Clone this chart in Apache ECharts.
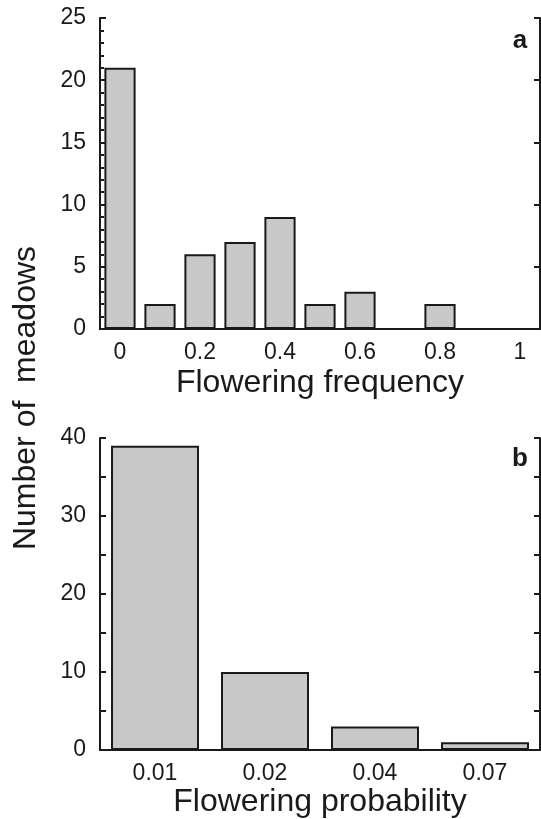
<!DOCTYPE html>
<html>
<head>
<meta charset="utf-8">
<script src="https://cdn.jsdelivr.net/npm/echarts@6/dist/echarts.min.js"></script>
<style>
  html, body { margin: 0; padding: 0; background: #fff; }
  #chart { width: 541px; height: 819px; }
</style>
</head>
<body>
<div id="chart"></div>
<script>
// panel a: flowering frequency bins
const freqBins = ['0', '0.1', '0.2', '0.3', '0.4', '0.5', '0.6', '0.7', '0.8', '0.9', '1'];
const freqCounts = [21, 2, 6, 7, 9, 2, 3, 0, 2, 0, 0];

// panel b: flowering probability classes
const probCats = ['0.01', '0.02', '0.04', '0.07'];
const probCounts = [39, 10, 3, 1];

const FONT = '"Liberation Sans", Arial, sans-serif';
const INK = '#1a1a1a';
const BAR = '#c8c8c8';

const chart = echarts.init(document.getElementById('chart'), null, { renderer: 'canvas' });

const lineStyle = { color: INK, width: 2 };
const labelStyle = { color: INK, fontSize: 23, fontFamily: FONT };
const nameStyle = { color: INK, fontSize: 32, fontFamily: FONT };

const option = {
  animation: false,
  backgroundColor: '#fff',
  grid: [
    { left: 100, right: 1, top: 18, height: 311 },
    { left: 100, right: 1, top: 438, height: 313 }
  ],
  xAxis: [
    // panel a, bottom: boundary ticks + labels
    {
      type: 'category', gridIndex: 0, position: 'bottom', data: freqBins,
      boundaryGap: true,
      axisLine: { lineStyle },
      axisTick: { inside: true, length: 6, lineStyle },
      axisLabel: Object.assign({ interval: 1, margin: 12 }, labelStyle),
      name: 'Flowering frequency', nameLocation: 'middle', nameGap: 38,
      nameTextStyle: nameStyle
    },
    // panel a, top
    {
      type: 'category', gridIndex: 0, position: 'top', data: freqBins,
      boundaryGap: true,
      axisLine: { lineStyle },
      axisTick: { inside: true, length: 6, lineStyle },
      axisLabel: { show: false }
    },
    // panel a, small ticks at bin centres (bottom)
    {
      type: 'category', gridIndex: 0, position: 'bottom', data: freqBins,
      boundaryGap: true,
      axisLine: { show: false },
      axisTick: { inside: true, alignWithLabel: true, length: 3, lineStyle },
      axisLabel: { show: false }
    },
    // panel a, small ticks at bin centres (top)
    {
      type: 'category', gridIndex: 0, position: 'top', data: freqBins,
      boundaryGap: true,
      axisLine: { show: false },
      axisTick: { inside: true, alignWithLabel: true, length: 3, lineStyle },
      axisLabel: { show: false }
    },
    // panel b, bottom
    {
      type: 'category', gridIndex: 1, position: 'bottom', data: probCats,
      boundaryGap: true,
      axisLine: { lineStyle },
      axisTick: { inside: true, length: 6, lineStyle },
      axisLabel: Object.assign({ margin: 12 }, labelStyle),
      name: 'Flowering probability', nameLocation: 'middle', nameGap: 36,
      nameTextStyle: nameStyle
    },
    // panel b, top
    {
      type: 'category', gridIndex: 1, position: 'top', data: probCats,
      boundaryGap: true,
      axisLine: { lineStyle },
      axisTick: { inside: true, length: 6, lineStyle },
      axisLabel: { show: false }
    }
  ],
  yAxis: [
    {
      type: 'value', gridIndex: 0, position: 'left', min: 0, max: 25, interval: 5,
      axisLine: { show: true, lineStyle },
      axisTick: { show: true, inside: true, length: 6, lineStyle },
      minorTick: { show: true, splitNumber: 5, length: 4, lineStyle },
      splitLine: { show: false },
      axisLabel: Object.assign({ margin: 14 }, labelStyle)
    },
    {
      type: 'value', gridIndex: 0, position: 'right', min: 0, max: 25, interval: 5,
      axisLine: { show: true, lineStyle },
      axisTick: { show: true, inside: true, length: 6, lineStyle },
      splitLine: { show: false },
      axisLabel: { show: false }
    },
    {
      type: 'value', gridIndex: 1, position: 'left', min: 0, max: 40, interval: 10,
      axisLine: { show: true, lineStyle },
      axisTick: { show: true, inside: true, length: 6, lineStyle },
      minorTick: { show: true, splitNumber: 2, length: 6, lineStyle },
      splitLine: { show: false },
      axisLabel: Object.assign({ margin: 14 }, labelStyle)
    },
    {
      type: 'value', gridIndex: 1, position: 'right', min: 0, max: 40, interval: 10,
      axisLine: { show: true, lineStyle },
      axisTick: { show: true, inside: true, length: 6, lineStyle },
      minorTick: { show: true, splitNumber: 2, length: 6, lineStyle },
      splitLine: { show: false },
      axisLabel: { show: false }
    }
  ],
  series: [
    {
      type: 'bar', xAxisIndex: 0, yAxisIndex: 0, data: freqCounts,
      barWidth: '78%',
      itemStyle: { color: BAR, borderColor: INK, borderWidth: 2 }
    },
    {
      type: 'bar', xAxisIndex: 4, yAxisIndex: 2, data: probCounts,
      barWidth: '80%',
      itemStyle: { color: BAR, borderColor: INK, borderWidth: 2 }
    }
  ],
  graphic: [
    {
      type: 'text', left: 26, top: 398, rotation: Math.PI / 2,
      style: {
        text: 'Number of  meadows', x: 0, y: 0,
        fill: INK, font: '32px ' + FONT, align: 'center', verticalAlign: 'middle'
      },
      position: [26, 398], left: null, top: null
    },
    {
      type: 'text', position: [520, 41],
      style: { text: 'a', fill: INK, font: 'bold 26px ' + FONT, align: 'center', verticalAlign: 'middle' }
    },
    {
      type: 'text', position: [520, 459],
      style: { text: 'b', fill: INK, font: 'bold 26px ' + FONT, align: 'center', verticalAlign: 'middle' }
    }
  ]
};

chart.setOption(option);
</script>
</body>
</html>
